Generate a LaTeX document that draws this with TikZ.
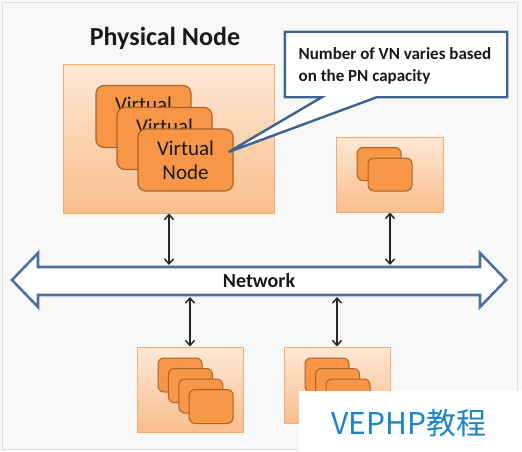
\documentclass[tikz,border=0pt]{standalone}
\usepackage{fontspec}
\setmainfont{Carlito}
\newfontfamily\cjk{Noto Sans CJK SC}
\usepackage{tikz}
\usetikzlibrary{
    arrows.meta,
    calc,
    positioning
}
\definecolor{pnTop}{HTML}{FDE8D6}
\definecolor{pnBottom}{HTML}{F9BE8C}
\definecolor{pnBorder}{HTML}{F2AC76}
\definecolor{vnFill}{HTML}{F79646}
\definecolor{vnBorder}{HTML}{A9632B}
\definecolor{noteBlue}{HTML}{3D6391}
\definecolor{netBlue}{HTML}{4F6F9F}
\definecolor{markBlue}{HTML}{1A85C9}
\definecolor{paper}{HTML}{F8F8F8}

\tikzset{
    pnbox/.style={draw=pnBorder, line width=1pt, top color=pnTop, bottom color=pnBottom, inner sep=0pt},
    vnbox/.style={draw=vnBorder, line width=1.2pt, fill=vnFill, rounded corners=8pt,
        minimum width=95pt, minimum height=62pt},
    vntext/.style={align=center, font=\fontsize{21}{24}\selectfont, text=black!90},
    vnsmall/.style={draw=vnBorder, line width=1pt, fill=vnFill, rounded corners=6pt,
        minimum width=44pt, minimum height=34pt, inner sep=0pt},
    link/.style={{Straight Barb[length=5pt,width=9pt]}-{Straight Barb[length=5pt,width=9pt]}, line width=1.5pt, black!85}
}

\begin{document}
\begin{tikzpicture}[x=1pt, y=-1pt]
    \useasboundingbox (0,0) rectangle (522,452);
    \fill[paper] (0,0) rectangle (522,452);
    \draw[gray!25] (2,2) rectangle (517,449);

    % physical nodes
    \node[pnbox, minimum width=211pt, minimum height=148pt] (pnbig) at (169,139) {};
    \node[pnbox, minimum width=107pt, minimum height=75pt] (pnright) at (390,174.5) {};
    \node[pnbox, minimum width=106pt, minimum height=85pt] (pnleft) at (190,389.5) {};
    \node[pnbox, minimum width=106pt, minimum height=76pt] (pnmid) at (337,385) {};

    \node[font=\bfseries\fontsize{26}{30}\selectfont, text=black!90] (title) at (165,38) {Physical Node};

    % virtual nodes in the big one
    \foreach \i/\x/\y in {1/143.5/116.5, 2/164.5/138.5} {
        \node[vnbox] (vn\i) at (\x,\y) {};
        \node[vntext] (vnlabel\i) at ([yshift=12pt]vn\i.center) {Virtual};
    }
    \node[vnbox, vntext] (vn3) at (185.5,160) {Virtual\\Node};

    % virtual nodes in the small ones
    \foreach \i in {0,1} {
        \node[vnsmall, minimum height=33pt] (vr\i) at (379+11*\i,164+10.5*\i) {};
    }
    \foreach \i in {0,...,3} {
        \node[vnsmall] (vl\i) at (180+10.4*\i,375+10.5*\i) {};
    }
    \foreach \i in {0,...,2} {
        \node[vnsmall] (vm\i) at (327+10.5*\i,375+10.5*\i) {};
    }

    % callout
    \node[minimum width=222pt, minimum height=65pt, inner sep=0pt] (note) at (396,64.5) {};
    \coordinate (noteTip) at ([xshift=-5pt,yshift=8pt]vn3.east);
    \draw[noteBlue, line width=2.4pt, fill=white, line join=miter]
        (note.north west) -- (note.north east) -- (note.south east)
        -- ([xshift=92pt]note.south west) -- (noteTip)
        -- ([xshift=37pt]note.south west) -- (note.south west) -- cycle;
    \node[align=left, font=\bfseries\fontsize{17}{22}\selectfont, text=black!90] (noteText) at (395,66)
        {Number of VN varies based\\on the PN capacity};

    % network
    \draw[netBlue, line width=2.6pt, fill=white, line join=miter]
        (12,280) -- (38,253) -- (38,267) -- (480,267) -- (480,253) -- (506,280)
        -- (480,307) -- (480,295) -- (38,295) -- (38,307) -- cycle;
    \node[font=\bfseries\fontsize{20}{24}\selectfont, text=black!90] (net) at (259,281) {Network};
    \coordinate (netTop) at (259,265);
    \coordinate (netBottom) at (259,297);

    % links
    \draw[link] (pnbig.south) -- (pnbig.south |- netTop);
    \draw[link] (pnright.south) -- (pnright.south |- netTop);
    \draw[link] (pnleft.north |- netBottom) -- (pnleft.north);
    \draw[link] (pnmid.north |- netBottom) -- (pnmid.north);

    % watermark
    \fill[white] (299,391) rectangle (522,452);
    \node[font=\cjk\fontsize{30}{34}\selectfont, text=markBlue] (mark) at (409,423) {VEPHP教程};
\end{tikzpicture}
\end{document}
